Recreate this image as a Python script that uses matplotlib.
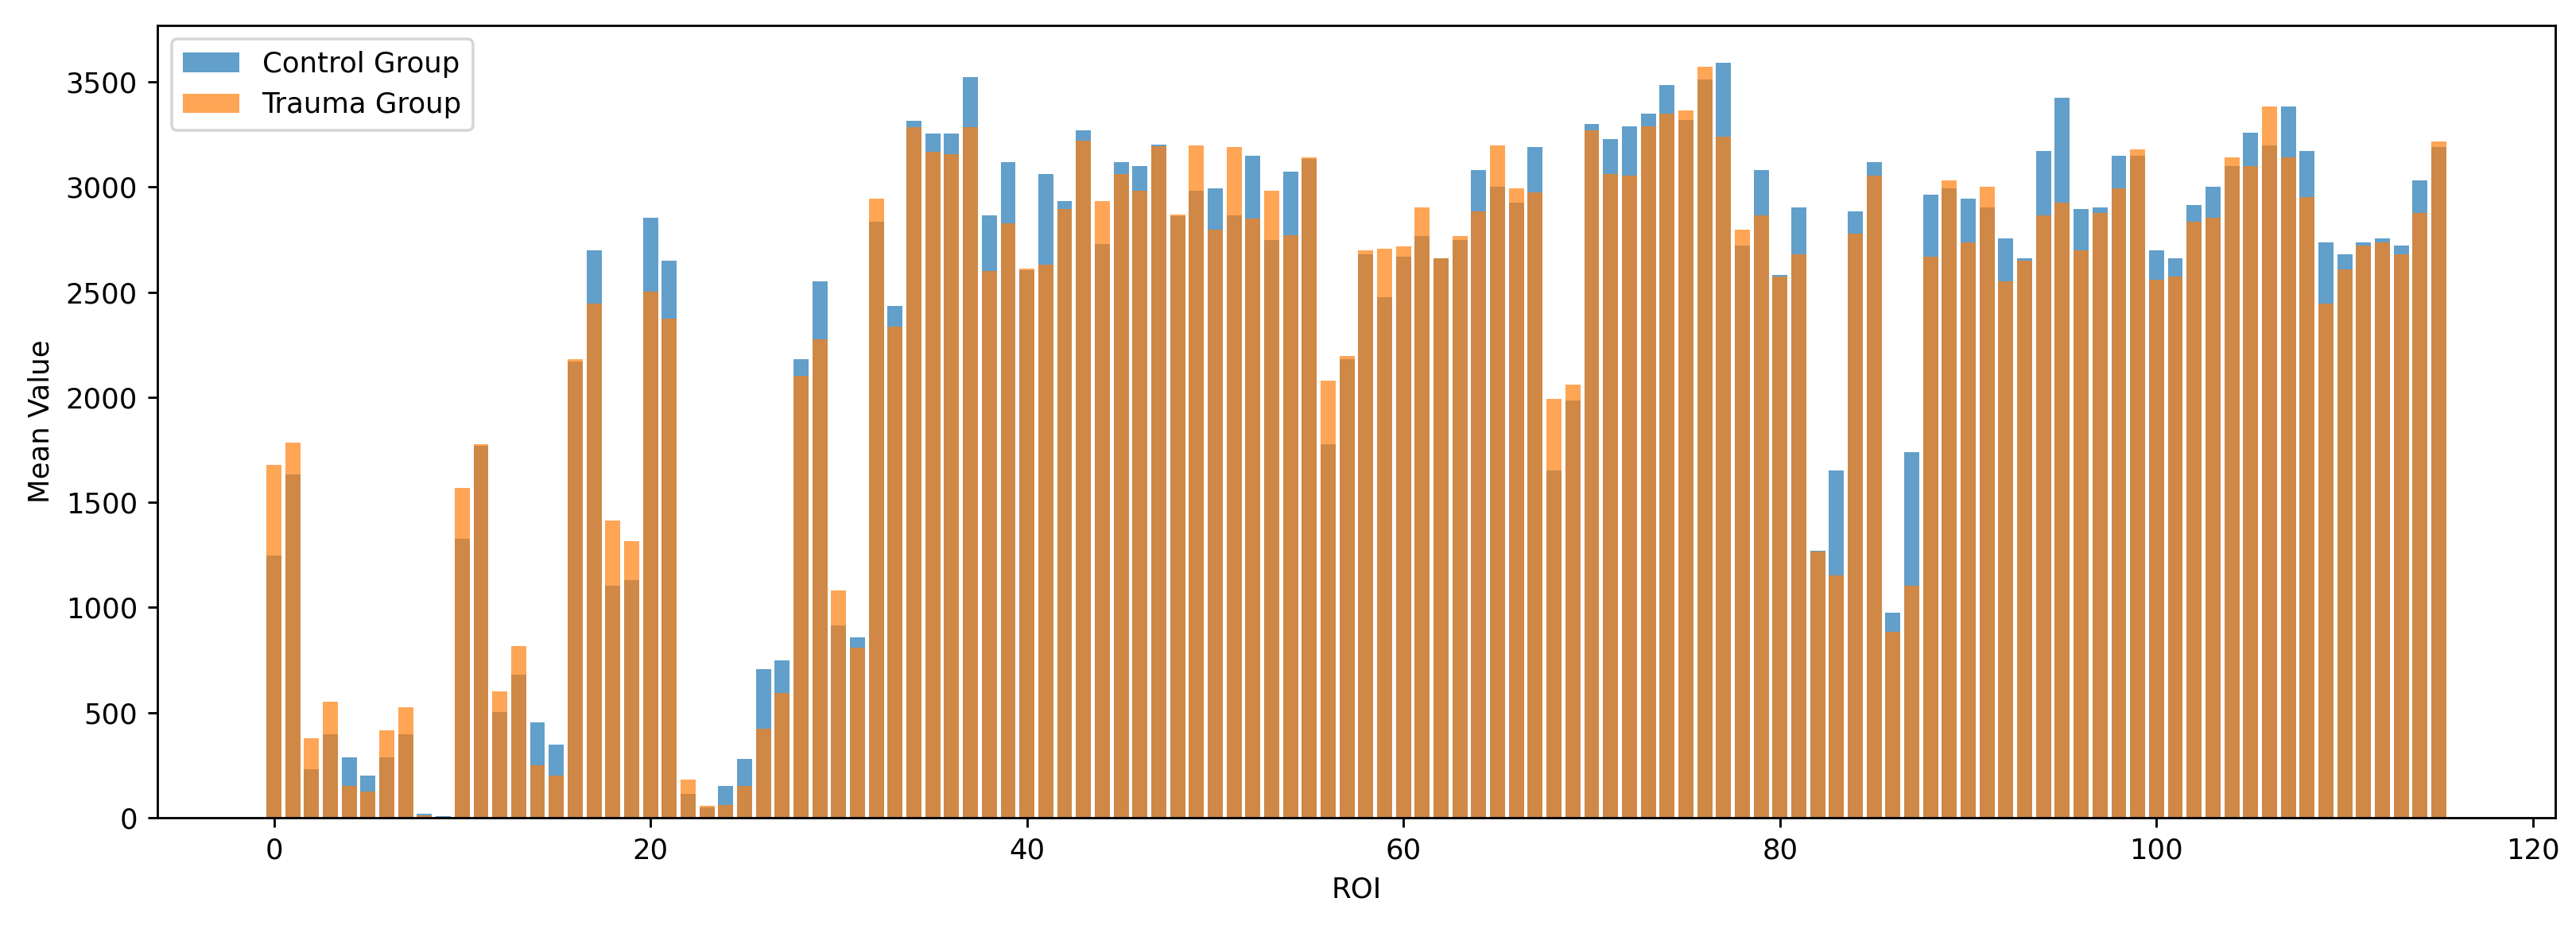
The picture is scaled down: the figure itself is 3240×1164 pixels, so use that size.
import matplotlib.pyplot as plt
import numpy as np

# mean value per ROI for each group
control_mean = [1249, 1633, 231, 396, 288, 199, 288, 396, 20, 8,
                1328, 1770, 504, 681, 455, 347, 2169, 2697, 1102, 1131,
                2855, 2651, 113, 50, 150, 278, 708, 748, 2179, 2550,
                915, 856, 2835, 2434, 3315, 3256, 3256, 3521, 2865, 3118,
                2605, 3061, 2934, 3268, 2729, 3120, 3101, 3200, 2860, 2983,
                2993, 2865, 3150, 2749, 3071, 3135, 1775, 2179, 2678, 2474,
                2668, 2766, 2660, 2749, 3079, 3002, 2924, 3189, 1650, 1984,
                3298, 3229, 3288, 3347, 3484, 3317, 3511, 3590, 2720, 3079,
                2582, 2904, 1270, 1650, 2884, 3120, 974, 1738, 2963, 2993,
                2943, 2904, 2757, 2661, 3170, 3423, 2894, 2904, 3150, 3150,
                2697, 2661, 2914, 3002, 3101, 3258, 3199, 3384, 3170, 2737,
                2678, 2737, 2757, 2720, 3032, 3189]

trauma_mean = [1679, 1785, 376, 553, 150, 123, 416, 524, 12, 2,
               1569, 1778, 600, 816, 248, 199, 2179, 2444, 1414, 1316,
               2503, 2373, 182, 55, 61, 150, 425, 593, 2100, 2275,
               1082, 807, 2943, 2336, 3285, 3167, 3157, 3285, 2602, 2828,
               2612, 2629, 2897, 3219, 2934, 3061, 2983, 3195, 2868, 3199,
               2798, 3189, 2848, 2983, 2769, 3142, 2078, 2196, 2697, 2707,
               2717, 2904, 2660, 2766, 2884, 3199, 2993, 2973, 1992, 2061,
               3268, 3061, 3052, 3288, 3347, 3364, 3570, 3238, 2798, 2865,
               2572, 2680, 1265, 1151, 2779, 3052, 885, 1102, 2668, 3032,
               2737, 3002, 2552, 2651, 2865, 2924, 2700, 2875, 2993, 3179,
               2560, 2572, 2835, 2855, 3140, 3101, 3384, 3140, 2953, 2444,
               2609, 2720, 2737, 2680, 2875, 3216]

roi = np.arange(len(control_mean))

DPI = 256
plt.figure(figsize=(3240 / DPI, 1164 / DPI), dpi=DPI)

plt.bar(roi, control_mean, alpha=0.7, label='Control Group')
plt.bar(roi, trauma_mean, alpha=0.7, label='Trauma Group')

plt.xlabel('ROI')
plt.ylabel('Mean Value')
plt.legend()

plt.subplots_adjust(left=0.0611, right=0.992, bottom=0.116, top=0.9728)

plt.savefig('out.png', dpi=DPI)
